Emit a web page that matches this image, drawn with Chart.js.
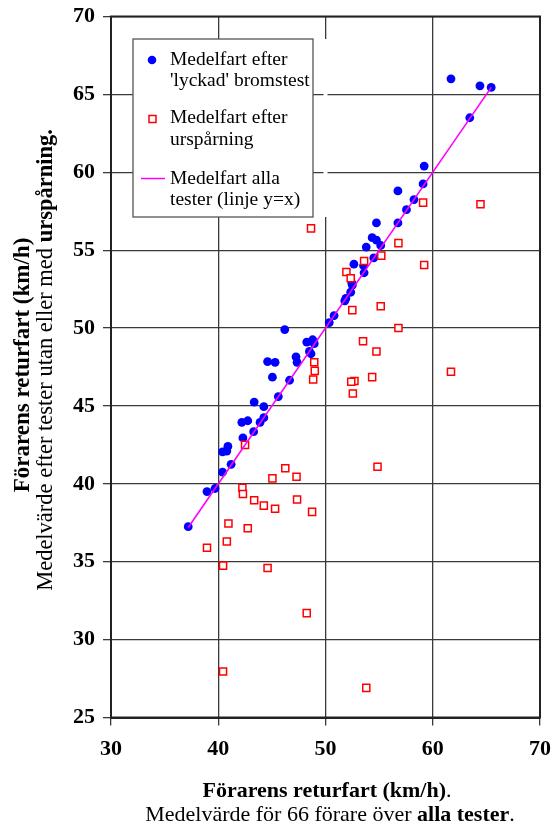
<!DOCTYPE html>
<html><head><meta charset="utf-8">
<script src="https://cdn.jsdelivr.net/npm/chart.js@4.4.1/dist/chart.umd.min.js"></script>
<style>html,body{margin:0;padding:0;background:#fff}#wrap{width:553px;height:825px;position:relative}</style>
</head><body><div id="wrap"><canvas id="c"></canvas></div>
<script>
// 'lyckad' bromstest (successful brake test)
const successX = [37.2,38.95,39.7,40.4,41.2,40.4,40.8,40.9,42.3,43.3,42.2,42.75,43.9,44.25,44.25,43.35,45.6,46.65,45.05,44.6,45.3,47.35,47.25,48.5,48.65,48.25,48.8,48.95,48.9,46.2,50.35,50.8,51.8,51.9,52.35,52.5,52.45,53.6,53.55,52.65,54.5,53.8,55.15,54.75,54.35,54.75,56.75,57.55,58.25,56.75,59.1,59.2,63.45,61.7,64.4,65.45];
const successY = [37.25,39.5,39.7,40.75,41.25,42.05,42.1,42.4,42.95,43.35,43.95,44.05,43.95,44.25,44.95,45.25,45.6,46.65,46.85,47.85,47.8,47.8,48.15,48.5,48.35,49.1,49.25,49.0,49.15,49.9,50.35,50.8,51.75,51.9,52.3,52.75,52.9,53.55,54.0,54.1,54.5,55.2,55.3,55.65,55.8,56.75,56.75,57.6,58.25,58.8,59.25,60.4,63.5,66.0,65.55,65.45];
// efter urspårning (after derailment)
const derailX = [48.65,59.1,64.45,56.8,55.2,59.2,53.6,51.95,52.35,55.15,52.5,56.8,53.5,54.75,61.7,48.95,49.0,48.85,54.35,52.7,52.4,52.55,54.85,48.75,48.25,53.8,46.25,45.05,47.3,42.25,42.3,43.35,44.25,45.3,47.35,40.95,42.75,40.8,38.95,40.45,44.6,40.45,42.5];
const derailY = [56.4,58.05,57.95,55.45,54.65,54.05,54.3,53.6,53.2,51.4,51.15,50.0,49.15,48.5,47.2,47.8,47.25,46.7,46.85,46.6,46.55,45.8,41.1,38.2,31.7,26.9,41.0,40.35,40.45,39.75,39.35,38.95,38.6,38.4,39.0,37.45,37.15,36.3,35.9,34.75,34.6,27.95,42.5];
// line y = x
const lineX = [37.2, 65.45];
const xTicks = [30, 40, 50, 60, 70];
const yTicks = [25, 30, 35, 40, 45, 50, 55, 60, 65, 70];
const seriesNames = [["Medelfart efter", "'lyckad' bromstest"], ["Medelfart efter", "urspårning"], ["Medelfart alla", "tester (linje y=x)"]];
const xTitle = [[["Förarens returfart (km/h)", true], [".", false]], [["Medelvärde för 66 förare över ", false], ["alla tester", true], [".", false]]];
const yTitle = [[["Förarens returfart (km/h)", true]], [["Medelvärde efter tester utan eller med ", false], ["urspårning.", true]]];

const FONT = '"Liberation Serif", "Times New Roman", serif';
const toPts = (xs, ys) => xs.map((x, i) => ({x, y: ys[i]}));

function runsWidth(ctx, runs, size) {
  let w = 0;
  for (const [t, b] of runs) { ctx.font = (b ? 'bold ' : '') + size + 'px ' + FONT; w += ctx.measureText(t).width; }
  return w;
}
function drawRuns(ctx, runs, x, y, size) {
  ctx.textAlign = 'left'; ctx.textBaseline = 'alphabetic'; ctx.fillStyle = '#000';
  for (const [t, b] of runs) { ctx.font = (b ? 'bold ' : '') + size + 'px ' + FONT; ctx.fillText(t, x, y); x += ctx.measureText(t).width; }
}

const decor = {
  id: 'decor',
  afterDraw(chart) {
    const ctx = chart.ctx, a = chart.chartArea;
    ctx.save();
    // frame
    ctx.strokeStyle = '#222'; ctx.lineWidth = 2;
    ctx.strokeRect(a.left, a.top, a.right - a.left, a.bottom - a.top);
    // legend box
    const L = 133, T = 39, R = 313, B = 217;
    ctx.fillStyle = '#fff';
    ctx.fillRect(L, T, R - L, B - T);
    const x50 = chart.scales.x.getPixelForValue(50);
    ctx.fillRect(x50 - 2, T, 4, B - T);
    ctx.strokeStyle = '#555'; ctx.lineWidth = 1.3;
    ctx.strokeRect(L, T, R - L, B - T);
    const fs = 19.5;
    const rows = [[65, 86], [123, 145], [184, 205]];
    rows.forEach((r, i) => {
      drawRuns(ctx, [[seriesNames[i][0], false]], 170, r[0], fs);
      drawRuns(ctx, [[seriesNames[i][1], false]], 170, r[1], fs);
    });
    // markers
    ctx.fillStyle = '#0000ff';
    ctx.beginPath(); ctx.arc(152, 60, 4.3, 0, Math.PI * 2); ctx.fill();
    ctx.fillStyle = '#fff'; ctx.strokeStyle = '#ff0000'; ctx.lineWidth = 1.5;
    ctx.fillRect(149, 115.5, 7, 7); ctx.strokeRect(149, 115.5, 7, 7);
    ctx.strokeStyle = '#ff00ff'; ctx.lineWidth = 1.5;
    ctx.beginPath(); ctx.moveTo(141, 178.5); ctx.lineTo(165, 178.5); ctx.stroke();
    // x title
    const ts = 22;
    const w1 = runsWidth(ctx, xTitle[0], ts), w2 = runsWidth(ctx, xTitle[1], ts);
    drawRuns(ctx, xTitle[0], 327 - w1 / 2, 797, ts);
    drawRuns(ctx, xTitle[1], 330 - w2 / 2, 821, ts);
    // y title
    const ys1 = 23, ys2 = 22.5;
    const v1 = runsWidth(ctx, yTitle[0], ys1), v2 = runsWidth(ctx, yTitle[1], ys2);
    ctx.save(); ctx.translate(29, 365); ctx.rotate(-Math.PI / 2);
    drawRuns(ctx, yTitle[0], -v1 / 2, 0, ys1); ctx.restore();
    ctx.save(); ctx.translate(52, 360); ctx.rotate(-Math.PI / 2);
    drawRuns(ctx, yTitle[1], -v2 / 2, 0, ys2); ctx.restore();
    ctx.restore();
  }
};

const gridCommon = { color: '#3a3a3a', lineWidth: 1.3, tickLength: 8, drawTicks: true };
new Chart(document.getElementById('c'), {
  type: 'scatter',
  data: {
    datasets: [
      { label: seriesNames[2].join(' '), type: 'line', data: toPts(lineX, lineX), borderColor: '#ff00ff', borderWidth: 1.6, pointRadius: 0, fill: false, order: 0 },
      { label: seriesNames[1].join(' '), data: toPts(derailX, derailY), pointStyle: 'rect', pointRadius: 5, borderColor: '#ff0000', backgroundColor: '#ffffff', borderWidth: 1.5, order: 1 },
      { label: seriesNames[0].join(' '), data: toPts(successX, successY), pointStyle: 'circle', pointRadius: 4.4, borderWidth: 0, backgroundColor: '#0000ff', borderColor: '#0000ff', order: 2 }
    ]
  },
  options: {
    responsive: true, maintainAspectRatio: false, animation: false, devicePixelRatio: 1,
    layout: { padding: { left: 0, top: 16.5, right: 13, bottom: 67.5 } },
    plugins: { legend: { display: false }, tooltip: { enabled: false }, title: { display: false } },
    scales: {
      x: {
        type: 'linear', min: 30, max: 70,
        afterBuildTicks: s => { s.ticks = xTicks.map(v => ({value: v})); },
        afterFit: s => { s.height = 40; s.paddingLeft = 0; s.paddingRight = 0; },
        grid: gridCommon,
        border: { display: true, color: '#222', width: 2 },
        ticks: { color: '#000', font: { family: FONT, size: 22, weight: 'bold' }, padding: 11, maxRotation: 0 }
      },
      y: {
        type: 'linear', min: 25, max: 70,
        afterBuildTicks: s => { s.ticks = yTicks.map(v => ({value: v})); },
        afterFit: s => { s.width = 111; s.paddingTop = 0; s.paddingBottom = 0; },
        grid: gridCommon,
        border: { display: true, color: '#222', width: 2 },
        ticks: { color: '#000', font: { family: FONT, size: 22, weight: 'bold' }, padding: 8 }
      }
    }
  },
  plugins: [decor]
});
</script>
</body></html>
